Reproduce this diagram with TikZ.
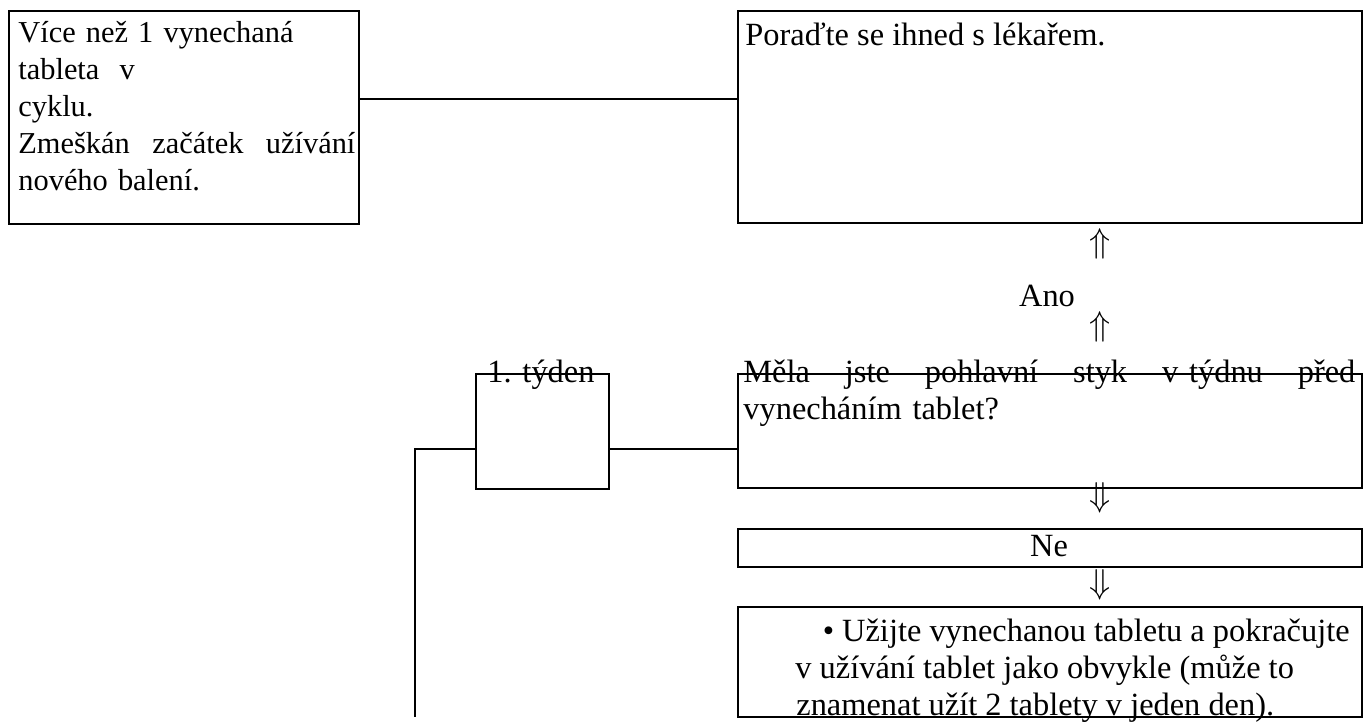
\documentclass[tikz,border=0pt]{standalone}
\usepackage{fontspec}
\setmainfont{Liberation Serif}
\usetikzlibrary{positioning}
\tikzset{
  box/.style={draw, line width=1.2pt, inner sep=0pt, anchor=north west},
  txt/.style={inner sep=0pt, anchor=base west, align=left, font=\fontsize{16.2}{18.5}\selectfont},
  arr/.style={inner sep=0pt, font=\fontsize{16.2}{18.5}\selectfont},
  dbl/.style={inner sep=0pt, font=\fontsize{19}{19}\selectfont},
  link/.style={draw, line width=1.1pt},
}

\begin{document}
\begin{tikzpicture}[x=0.5pt,y=-0.5pt]
  \useasboundingbox (0,0) rectangle (1370,725);

  % boxes
  \node[box, minimum width=175pt, minimum height=106.5pt] (miss) at (8,10) {};
  \node[box, minimum width=312pt, minimum height=106pt] (doc) at (737,10) {};
  \node[box, minimum width=66.5pt, minimum height=57.5pt] (week) at (475,373) {};
  \node[box, minimum width=312pt, minimum height=57pt] (sex) at (737,373) {};
  \node[box, minimum width=312pt, minimum height=19pt] (no) at (737,528) {};
  \node[box, minimum width=312pt, minimum height=55pt] (take) at (737,606) {};

  % texts
  \node[txt, text width=168.5pt, font=\fontsize{15.2}{18.5}\selectfont] (misst) at (18,42)
    {Více než 1 vynechaná\\ tableta\ \ v\\ cyklu.\\
     \makebox[\hsize]{Zmeškán\hfill začátek\hfill užívání}\\ nového balení.};
  \node[txt] (doct) at (745,45) {Poraďte se ihned s lékařem.};
  \node[txt] (weekt) at (487,382) {1. týden};
  \node[txt, text width=306pt] (sext) at (743,382)
    {\makebox[\hsize]{Měla\hfill jste\hfill pohlavní\hfill styk\hfill v~týdnu\hfill před}\\
     vynecháním tablet?};
  \node[arr, anchor=base] (not) at (1049,556) {Ne};
  \node[txt, anchor=base east] (take1) at (1350,641) {• Užijte vynechanou tabletu a pokračujte};
  \node[txt] (take2) at (795,678) {v užívání tablet jako obvykle (může to};
  \node[txt] (take3) at (796,715) {znamenat užít 2 tablety v jeden den).};

  % yes / no arrows
  \node[dbl] (up1) at (1100,244) {$\Uparrow$};
  \node[arr, anchor=base] (yes) at (1047,306) {Ano};
  \node[dbl] (up2) at (1100,327) {$\Uparrow$};
  \node[dbl] (dn1) at (1100,498) {$\Downarrow$};
  \node[dbl] (dn2) at (1100,585) {$\Downarrow$};

  % connectors
  \coordinate (ab) at (0,99);
  \draw[link] (ab -| miss.east) -- (ab -| doc.west);
  \coordinate (wq) at (0,449);
  \draw[link] (wq -| week.east) -- (wq -| sex.west);
  \coordinate (down) at (415,717);
  \draw[link] (wq -| week.west) -| (down);
\end{tikzpicture}
\end{document}
